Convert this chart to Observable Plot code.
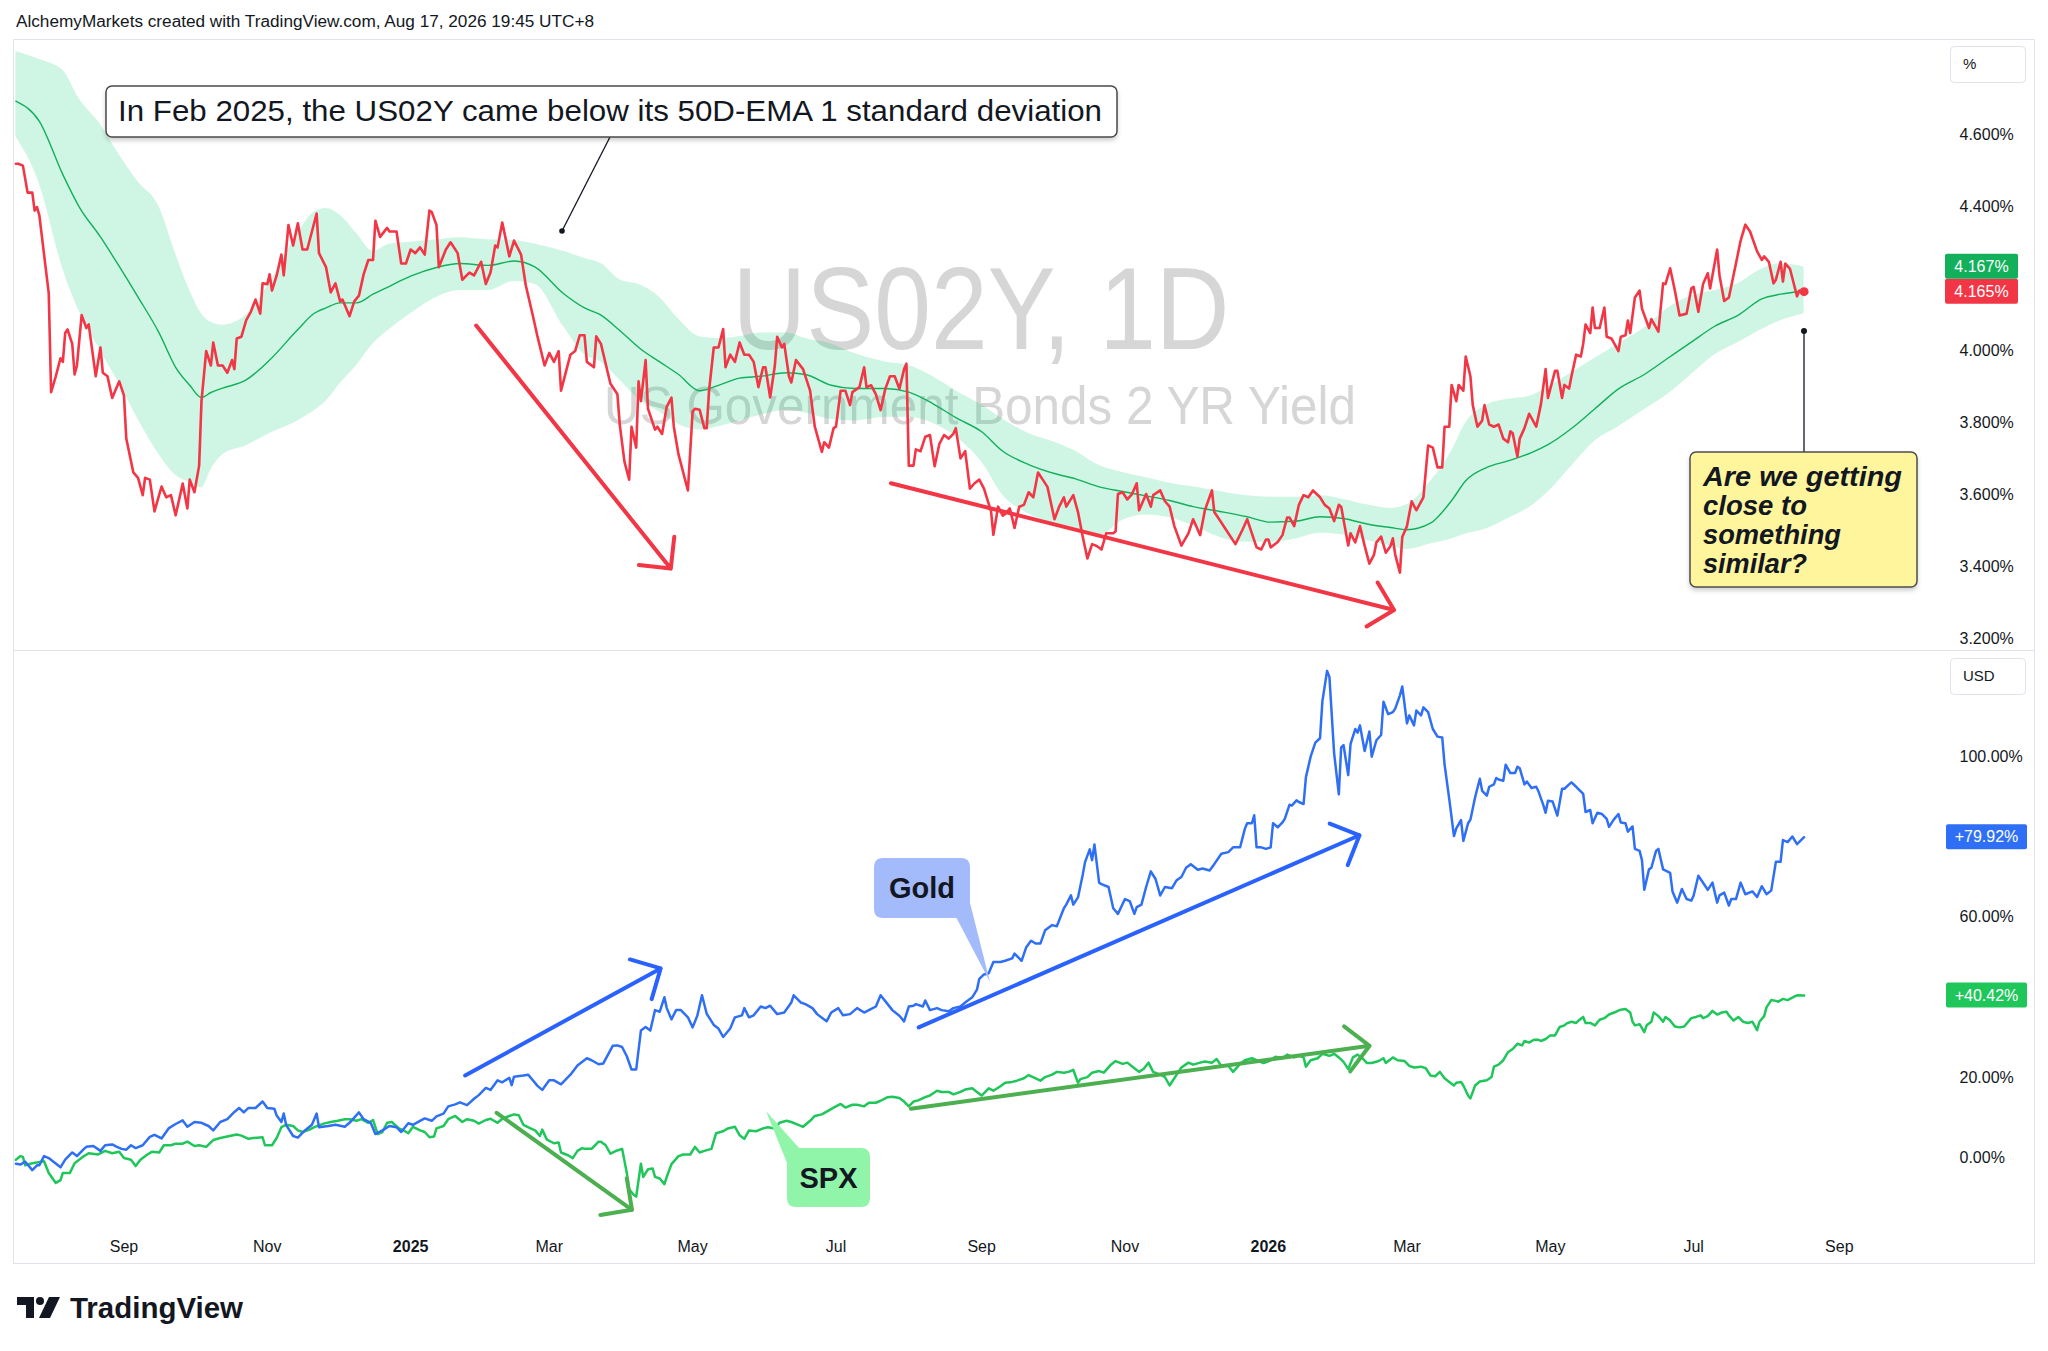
<!DOCTYPE html>
<html>
<head>
<meta charset="utf-8">
<script src="https://cdn.jsdelivr.net/npm/d3@7"></script>
<script src="https://cdn.jsdelivr.net/npm/@observablehq/plot@0.6"></script>
<style>
html,body{margin:0;padding:0;background:#fff;}
#wrap{position:relative;width:2048px;height:1351px;overflow:hidden;background:#fff;font-family:"Liberation Sans",Arial,sans-serif;}
.layer{position:absolute;}
</style>
</head>
<body>
<div id="wrap"></div>
<script>
// ---------------- DATA ----------------
// Day offsets are days since BASE_DAY.
const BASE_DAY = "2024-07-16";

// US02Y daily yield, [day, %]
const us02y = [[1,4.52],[2,4.52],[4,4.515],[6,4.44],[8,4.44],[9,4.39],[10,4.40],[11,4.377],[15,4.16],[16,3.886],[18,3.93],[20,3.98],[21,3.97],[22,4.05],[23,4.06],[25,4.02],[26,3.935],[27,3.96],[29,4.10],[31,4.064],[32,4.074],[35,3.93],[37,4.01],[38,3.94],[40,3.93],[41,3.90],[42,3.87],[45,3.916],[47,3.877],[48,3.757],[51,3.663],[53,3.648],[55,3.60],[56,3.648],[58,3.643],[60,3.555],[63,3.624],[65,3.594],[67,3.60],[69,3.544],[72,3.632],[74,3.563],[75,3.643],[77,3.608],[79,3.682],[80,3.861],[82,4.0],[84,3.96],[85,4.024],[87,3.96],[89,3.96],[91,3.94],[93,3.975],[94,3.95],[95,4.035],[97,4.04],[99,4.085],[101,4.109],[103,4.143],[105,4.104],[106,4.188],[108,4.186],[109,4.213],[110,4.168],[112,4.21],[114,4.268],[115,4.21],[117,4.35],[119,4.293],[121,4.355],[123,4.282],[125,4.282],[127,4.332],[129,4.382],[130,4.272],[133,4.233],[135,4.163],[137,4.188],[139,4.138],[140,4.143],[143,4.097],[145,4.138],[147,4.154],[149,4.213],[151,4.253],[153,4.253],[154,4.362],[156,4.317],[159,4.342],[160,4.332],[163,4.332],[165,4.243],[167,4.243],[169,4.282],[171,4.272],[173,4.288],[175,4.268],[177,4.39],[178,4.386],[180,4.35],[181,4.233],[184,4.282],[186,4.302],[189,4.272],[191,4.198],[194,4.218],[196,4.21],[199,4.248],[201,4.186],[203,4.218],[205,4.293],[206,4.288],[208,4.357],[211,4.263],[213,4.307],[216,4.268],[218,4.183],[221,4.099],[223,4.04],[226,3.96],[228,3.995],[230,3.97],[232,4.0],[233,3.89],[237,3.99],[239,4.0],[241,4.044],[243,4.044],[244,3.97],[247,3.955],[248,4.041],[250,4.02],[254,3.91],[257,3.88],[258,3.796],[260,3.693],[262,3.643],[263,3.79],[265,3.732],[266,3.916],[267,3.861],[269,3.975],[270,3.84],[273,3.782],[274,3.79],[276,3.77],[278,3.846],[280,3.871],[281,3.79],[283,3.713],[287,3.613],[289,3.832],[290,3.84],[292,3.837],[294,3.786],[295,3.786],[296,3.89],[298,4.01],[300,4.01],[302,4.061],[303,3.955],[305,3.99],[307,3.97],[309,4.024],[311,3.99],[313,3.99],[315,3.97],[317,3.90],[319,3.955],[320,3.955],[322,3.871],[324,3.96],[325,4.04],[327,4.01],[328,4.02],[330,3.93],[331,3.913],[333,3.975],[336,3.95],[337,3.93],[339,3.89],[341,3.79],[344,3.72],[345,3.747],[347,3.732],[349,3.786],[350,3.79],[352,3.89],[354,3.89],[356,3.85],[357,3.886],[360,3.90],[362,3.955],[363,3.90],[365,3.905],[367,3.88],[369,3.836],[371,3.895],[373,3.93],[375,3.93],[377,3.895],[379,3.95],[380,3.965],[381,3.682],[383,3.682],[384,3.727],[386,3.722],[388,3.762],[390,3.767],[392,3.68],[394,3.742],[396,3.767],[398,3.757],[400,3.771],[401,3.786],[403,3.702],[405,3.722],[407,3.618],[409,3.633],[411,3.643],[413,3.618],[416,3.555],[417,3.49],[419,3.568],[421,3.543],[422,3.548],[424,3.563],[426,3.509],[428,3.568],[430,3.573],[432,3.608],[434,3.594],[436,3.663],[438,3.643],[440,3.623],[443,3.533],[445,3.568],[447,3.594],[448,3.568],[451,3.60],[453,3.553],[455,3.485],[457,3.424],[459,3.464],[461,3.459],[463,3.449],[465,3.494],[468,3.494],[469,3.499],[470,3.603],[472,3.608],[474,3.588],[476,3.603],[478,3.633],[479,3.558],[482,3.603],[484,3.568],[485,3.60],[488,3.613],[490,3.583],[492,3.568],[494,3.514],[497,3.46],[500,3.494],[502,3.533],[505,3.489],[507,3.558],[510,3.613],[511,3.553],[514,3.524],[516,3.504],[518,3.484],[520,3.464],[523,3.504],[525,3.533],[527,3.494],[529,3.455],[531,3.449],[533,3.477],[534,3.477],[535,3.455],[538,3.47],[540,3.489],[542,3.538],[543,3.538],[545,3.514],[547,3.573],[549,3.60],[551,3.594],[553,3.613],[556,3.594],[558,3.573],[560,3.563],[562,3.528],[564,3.573],[565,3.568],[568,3.46],[569,3.494],[571,3.469],[573,3.514],[575,3.459],[577,3.41],[579,3.435],[580,3.469],[582,3.485],[584,3.44],[586,3.459],[587,3.48],[588,3.435],[590,3.385],[591,3.484],[593,3.514],[595,3.583],[597,3.558],[600,3.594],[602,3.738],[604,3.732],[606,3.677],[608,3.677],[609,3.79],[611,3.79],[612,3.906],[614,3.861],[615,3.906],[617,3.89],[618,3.985],[620,3.93],[621,3.85],[623,3.79],[625,3.807],[626,3.85],[628,3.796],[630,3.79],[632,3.796],[634,3.757],[636,3.747],[637,3.777],[638,3.772],[640,3.707],[641,3.757],[643,3.786],[645,3.826],[648,3.79],[650,3.852],[652,3.95],[653,3.87],[656,3.945],[657,3.945],[659,3.87],[660,3.906],[662,3.896],[663,3.93],[665,3.99],[667,3.985],[668,4.02],[669,4.074],[671,4.05],[672,4.121],[673,4.064],[675,4.064],[677,4.121],[678,4.04],[680,4.035],[683,4.0],[684,4.04],[686,4.044],[687,4.085],[688,4.05],[690,4.149],[692,4.168],[693,4.118],[696,4.064],[697,4.089],[700,4.054],[702,4.188],[703,4.186],[705,4.23],[707,4.168],[709,4.099],[712,4.104],[714,4.174],[715,4.178],[717,4.109],[719,4.186],[721,4.216],[722,4.174],[725,4.282],[726,4.21],[728,4.139],[730,4.149],[733,4.243],[735,4.307],[737,4.351],[739,4.332],[742,4.277],[744,4.253],[745,4.263],[747,4.248],[749,4.188],[750,4.198],[752,4.248],[753,4.193],[754,4.243],[756,4.228],[757,4.203],[759,4.152],[760,4.168],[762,4.165]];

// 50D EMA with its 1-standard-deviation band, [day, lower, ema, upper]
const band50 = [[1,4.595,4.694,4.832],[11,4.465,4.638,4.81],[21,4.228,4.49,4.78],[28,4.109,4.40,4.70],[37,4.0,4.317,4.629],[45,3.91,4.235,4.545],[53,3.811,4.15,4.47],[62,3.712,4.05,4.40],[69,3.655,3.955,4.27],[75,3.635,3.905,4.168],[80,3.62,3.871,4.104],[84,3.67,3.885,4.08],[89,3.712,3.897,4.072],[99,3.737,3.92,4.10],[109,3.771,3.975,4.19],[121,3.806,4.06,4.327],[128,3.835,4.105,4.386],[133,3.861,4.12,4.396],[139,3.91,4.134,4.377],[146,3.96,4.134,4.327],[153,4.02,4.158,4.277],[160,4.06,4.18,4.297],[169,4.104,4.208,4.302],[180,4.149,4.232,4.309],[190,4.168,4.243,4.315],[202,4.168,4.238,4.309],[213,4.193,4.25,4.307],[222,4.185,4.233,4.297],[234,4.069,4.16,4.277],[243,3.99,4.12,4.257],[250,3.97,4.10,4.243],[258,3.92,4.057,4.198],[267,3.861,4.005,4.183],[275,3.831,3.97,4.149],[283,3.796,3.935,4.089],[292,3.781,3.89,4.04],[300,3.79,3.905,4.035],[309,3.806,3.925,4.04],[318,3.822,3.93,4.05],[329,3.836,3.94,4.05],[337,3.828,3.935,4.035],[348,3.81,3.905,4.02],[358,3.806,3.896,3.993],[371,3.816,3.896,3.97],[381,3.816,3.886,3.96],[391,3.80,3.855,3.93],[401,3.762,3.815,3.89],[412,3.692,3.776,3.85],[421,3.60,3.722,3.811],[432,3.548,3.685,3.771],[443,3.52,3.66,3.747],[452,3.508,3.645,3.722],[462,3.487,3.623,3.682],[472,3.53,3.61,3.663],[482,3.545,3.598,3.648],[492,3.537,3.585,3.633],[502,3.515,3.568,3.623],[515,3.479,3.553,3.608],[525,3.469,3.54,3.598],[535,3.469,3.525,3.594],[546,3.479,3.528,3.594],[556,3.494,3.54,3.598],[566,3.489,3.535,3.588],[576,3.474,3.52,3.573],[586,3.459,3.51,3.563],[593,3.449,3.504,3.573],[603,3.464,3.522,3.638],[612,3.478,3.585,3.722],[618,3.492,3.64,3.80],[627,3.507,3.677,3.85],[636,3.535,3.695,3.866],[646,3.57,3.718,3.876],[653,3.608,3.74,3.90],[663,3.68,3.785,3.94],[673,3.75,3.84,3.98],[683,3.79,3.895,4.02],[694,3.837,3.935,4.064],[704,3.88,3.98,4.119],[714,3.935,4.025,4.153],[724,3.99,4.069,4.168],[734,4.024,4.10,4.188],[744,4.06,4.145,4.228],[752,4.084,4.158,4.243],[762,4.104,4.167,4.233]];

// Gold, % change, [day, %]
const gold = [[1,-1.5],[3,-1.7],[5,-1.0],[8,-3.1],[10,-1.9],[11,-1.9],[13,0.4],[15,-0.1],[20,-2.4],[22,-0.5],[25,1.3],[27,0.4],[30,2.2],[31,2.7],[34,2.9],[37,1.7],[39,3.1],[42,3.3],[44,2.7],[46,2.2],[48,2.0],[50,3.1],[52,2.4],[55,3.1],[58,5.2],[60,5.7],[63,4.8],[66,7.3],[69,8.4],[72,9.3],[74,7.7],[77,8.9],[80,8.7],[83,7.9],[85,6.8],[88,8.9],[91,9.6],[94,11.4],[96,12.4],[98,11.3],[100,12.4],[103,12.4],[106,14.0],[108,12.4],[111,12.2],[112,10.5],[114,8.9],[115,11.0],[116,8.2],[119,5.4],[121,5.0],[124,6.8],[127,8.2],[129,11.0],[130,7.6],[134,7.9],[137,8.2],[141,7.7],[143,8.7],[147,11.3],[149,9.6],[152,8.7],[154,5.9],[157,6.8],[160,7.9],[163,7.6],[165,6.4],[168,8.6],[170,8.2],[173,9.2],[175,9.8],[178,9.2],[180,10.3],[183,11.0],[185,12.8],[188,13.3],[190,13.8],[193,13.1],[196,14.7],[198,15.6],[201,17.4],[203,16.9],[206,19.3],[208,18.8],[211,19.9],[212,18.1],[213,20.2],[217,20.5],[219,20.7],[221,19.3],[223,17.9],[225,16.9],[228,19.3],[230,19.3],[233,18.3],[237,20.7],[240,23.0],[244,24.8],[246,24.3],[249,23.3],[251,23.5],[253,25.7],[255,27.9],[257,28.0],[259,27.6],[261,25.3],[263,22.0],[265,22.0],[267,31.7],[269,32.6],[271,31.7],[273,36.8],[275,36.4],[277,40.0],[278,37.3],[280,34.5],[282,36.8],[284,36.8],[287,35.0],[289,32.5],[291,35.4],[293,40.5],[295,35.9],[298,33.1],[300,32.2],[302,30.1],[305,32.2],[307,35.0],[310,35.5],[311,37.3],[313,35.0],[315,35.5],[318,37.7],[320,37.3],[322,37.9],[325,35.8],[328,36.2],[331,38.7],[332,40.5],[335,38.7],[337,38.3],[340,37.3],[342,35.8],[346,34.0],[348,36.2],[351,37.3],[353,35.5],[356,35.8],[359,37.3],[362,36.2],[364,36.8],[367,37.7],[369,40.5],[372,38.3],[374,36.8],[377,35.4],[379,34.0],[381,37.7],[383,37.9],[384,38.3],[387,37.7],[388,39.2],[390,36.8],[393,37.3],[395,36.8],[398,36.5],[400,37.3],[403,37.7],[405,38.7],[408,40.0],[410,41.9],[411,44.6],[413,45.7],[415,46.0],[417,48.8],[420,48.8],[422,49.1],[425,49.7],[426,50.9],[428,49.7],[429,49.1],[431,52.5],[433,54.1],[435,53.4],[437,53.4],[439,56.7],[442,58.0],[444,57.7],[447,62.2],[448,63.1],[450,65.4],[451,63.1],[453,64.9],[455,70.5],[456,73.7],[458,76.9],[459,74.2],[460,78.1],[462,68.6],[463,68.2],[466,67.5],[468,62.2],[470,60.8],[473,64.5],[475,64.0],[477,60.8],[478,62.5],[480,63.1],[482,67.5],[484,71.4],[486,69.5],[488,65.4],[490,67.5],[493,67.2],[495,69.2],[497,70.0],[499,72.3],[501,73.2],[504,71.8],[506,72.1],[509,71.6],[511,73.2],[514,75.8],[517,76.2],[519,77.4],[522,77.4],[524,82.0],[525,83.4],[527,83.4],[528,85.4],[529,77.4],[531,77.4],[533,77.0],[535,77.4],[536,83.4],[538,82.4],[540,83.6],[541,84.5],[543,88.0],[544,87.8],[546,89.1],[547,88.7],[549,88.2],[550,94.9],[552,100.0],[554,103.5],[556,104.6],[557,113.8],[559,121.4],[560,119.9],[562,100.9],[564,90.6],[565,102.3],[566,102.9],[568,95.4],[569,103.2],[571,106.9],[572,106.0],[573,107.8],[575,101.4],[577,106.3],[578,100.0],[580,104.1],[582,105.4],[583,113.7],[585,110.6],[587,111.1],[588,112.0],[590,115.3],[591,117.5],[593,108.3],[594,110.3],[596,107.8],[597,111.5],[599,110.3],[600,112.3],[602,111.1],[604,106.9],[606,105.0],[608,104.8],[609,98.1],[611,89.4],[613,80.2],[614,82.1],[616,84.2],[617,79.0],[619,83.4],[620,84.3],[622,89.9],[624,94.5],[625,91.5],[627,90.3],[628,92.5],[630,93.1],[631,94.7],[632,94.3],[634,94.0],[635,98.0],[637,95.9],[639,95.9],[640,97.5],[641,97.1],[643,93.1],[644,93.8],[646,92.2],[648,92.5],[649,91.3],[651,88.0],[652,86.0],[653,89.0],[655,88.8],[657,85.3],[659,92.0],[660,92.0],[662,93.1],[663,93.6],[665,92.5],[668,90.7],[669,86.2],[671,86.7],[672,83.4],[674,86.0],[676,85.7],[678,84.5],[679,82.5],[681,84.3],[683,85.7],[684,83.6],[686,83.4],[687,81.3],[689,82.6],[690,77.0],[692,76.5],[693,74.2],[694,66.8],[696,71.9],[697,72.3],[699,76.5],[700,77.0],[702,71.9],[705,71.0],[706,66.4],[708,63.6],[710,67.0],[712,64.5],[714,64.1],[715,65.4],[717,70.3],[720,67.7],[721,66.8],[723,68.6],[725,63.6],[726,65.4],[728,66.1],[730,62.9],[731,64.5],[733,64.5],[735,68.6],[737,65.7],[740,66.4],[742,65.0],[744,67.7],[746,65.7],[748,66.6],[750,73.8],[752,73.8],[753,79.2],[755,78.7],[757,80.1],[759,78.2],[762,79.92]];

// S&P 500, % change, [day, %]
const spx = [[1,-0.5],[3,0.4],[4,0.2],[5,-1.9],[8,-1.4],[10,-1.2],[13,-0.9],[15,-3.8],[18,-6.3],[20,-5.6],[21,-3.8],[24,-3.8],[26,-1.4],[30,0.4],[32,1.1],[36,0.8],[39,1.7],[42,1.1],[45,1.5],[47,-0.1],[50,-0.5],[52,-2.1],[54,-0.5],[57,0.8],[59,1.5],[62,1.3],[64,3.1],[67,3.1],[69,3.5],[72,3.5],[74,4.0],[77,2.9],[79,3.1],[82,2.7],[85,4.4],[88,4.9],[91,5.3],[95,5.8],[97,5.5],[100,4.7],[102,4.9],[106,5.1],[107,3.1],[110,3.1],[112,4.9],[114,7.6],[116,8.2],[119,7.9],[121,6.8],[123,6.4],[126,7.0],[128,7.6],[132,8.5],[135,8.9],[138,9.2],[141,9.6],[143,9.6],[146,9.2],[148,9.6],[151,8.7],[153,9.4],[155,5.9],[157,6.4],[159,8.7],[161,8.9],[164,7.3],[166,6.8],[168,6.1],[170,7.7],[173,6.8],[175,6.4],[177,5.1],[179,5.3],[180,7.3],[183,7.9],[185,9.6],[188,10.4],[191,8.9],[193,9.6],[196,9.2],[198,8.5],[201,9.4],[203,9.7],[206,8.7],[208,9.7],[211,10.4],[213,10.8],[215,10.6],[217,8.2],[220,7.3],[222,6.8],[224,5.4],[225,7.0],[227,4.5],[230,3.6],[232,3.8],[233,1.3],[236,0.6],[238,-0.1],[240,1.7],[242,2.4],[243,2.2],[246,2.2],[249,4.0],[250,4.0],[252,3.1],[254,1.0],[256,1.6],[259,2.2],[261,-3.8],[262,-7.9],[264,-9.3],[265,-9.7],[267,-1.5],[268,-4.8],[270,-2.9],[272,-2.7],[273,-4.8],[275,-5.2],[277,-6.6],[278,-4.8],[280,-1.6],[283,0.4],[285,0.8],[288,0.8],[290,2.7],[292,1.3],[294,1.7],[297,2.2],[299,6.1],[302,6.6],[304,7.3],[307,7.7],[309,5.6],[311,4.7],[313,6.8],[316,6.6],[319,7.3],[321,7.6],[324,7.3],[326,8.7],[329,9.2],[331,8.9],[334,8.2],[336,7.7],[339,9.2],[341,10.4],[344,10.8],[347,11.8],[349,12.5],[352,13.4],[354,12.5],[357,13.2],[359,13.2],[362,12.8],[364,13.7],[367,13.7],[369,14.2],[372,15.1],[374,15.2],[377,14.9],[379,14.0],[381,12.8],[383,14.0],[385,14.3],[388,15.1],[390,15.5],[393,16.7],[395,16.4],[398,16.4],[400,15.8],[403,16.4],[405,17.0],[408,17.3],[410,16.4],[412,15.5],[415,17.3],[417,16.7],[420,17.8],[422,18.7],[425,18.9],[427,19.2],[430,19.8],[432,20.6],[435,19.8],[437,19.2],[439,20.1],[442,20.7],[444,21.4],[447,21.2],[449,21.4],[451,21.9],[453,18.7],[454,19.6],[457,20.1],[459,21.2],[462,21.6],[464,21.2],[467,23.2],[469,24.1],[472,23.4],[474,23.7],[477,22.3],[479,21.4],[481,22.2],[483,23.7],[485,21.4],[488,20.7],[490,20.1],[492,18.0],[495,20.7],[497,22.5],[500,23.7],[502,23.2],[505,23.7],[507,24.0],[510,23.7],[512,24.6],[514,22.9],[517,22.9],[519,21.4],[522,23.4],[524,24.3],[527,24.8],[529,24.3],[532,23.6],[535,24.3],[537,25.2],[540,24.8],[542,25.7],[545,25.0],[547,25.4],[549,25.0],[550,22.7],[552,24.3],[555,24.8],[557,25.9],[560,25.4],[562,25.9],[564,25.0],[566,23.9],[568,22.1],[570,25.0],[572,25.7],[574,24.8],[576,23.6],[578,23.6],[581,24.1],[583,24.8],[584,23.6],[587,25.0],[589,24.3],[592,24.1],[594,22.9],[596,22.5],[599,22.7],[601,22.3],[603,20.5],[605,20.3],[607,21.4],[609,19.8],[611,18.9],[613,18.0],[614,18.7],[616,18.9],[617,18.0],[619,15.5],[620,14.8],[622,18.0],[624,19.0],[627,19.3],[629,20.1],[630,22.7],[632,23.2],[634,24.3],[636,26.3],[638,27.1],[640,28.4],[642,28.0],[643,29.1],[645,28.7],[647,29.4],[649,29.4],[650,29.1],[652,29.6],[654,30.5],[656,30.5],[658,32.6],[660,33.0],[661,33.5],[663,33.9],[665,33.6],[666,34.2],[668,35.1],[669,33.6],[671,33.6],[673,33.0],[675,34.4],[677,34.8],[679,35.7],[682,36.4],[684,36.9],[686,37.1],[688,36.2],[689,33.9],[690,33.0],[692,33.3],[694,31.3],[695,33.0],[697,33.9],[698,36.2],[700,35.3],[702,33.9],[703,35.1],[705,34.2],[707,32.7],[709,32.5],[711,32.7],[714,34.8],[716,35.1],[718,35.5],[719,34.8],[721,35.3],[723,36.6],[725,35.7],[727,36.2],[729,36.4],[730,35.5],[732,34.2],[734,35.1],[736,33.9],[738,33.6],[740,33.9],[742,31.8],[743,33.9],[745,35.3],[746,37.5],[748,39.3],[750,39.1],[751,38.9],[753,39.6],[755,39.3],[758,40.2],[759,40.5],[762,40.42]];

// Axis ticks
const monthTicks = ["2024-09-01","2024-11-01","2025-01-01","2025-03-01","2025-05-01","2025-07-01","2025-09-01","2025-11-01","2026-01-01","2026-03-01","2026-05-01","2026-07-01","2026-09-01"];
const usTicks = [4.6, 4.4, 4.0, 3.8, 3.6, 3.4, 3.2];
const cmpTicks = [100, 60, 20, 0];
const xEndDay = 820.9; // right edge of the plotting area

// Drawn annotation arrows, [day1, value1, day2, value2]
const redArrows = [[196.9,4.071,279.7,3.396],[373.4,3.633,587.5,3.281]];
const goldArrows = [[192.2,20.5,275.4,47.2],[385.2,32.5,572.8,80.4]];
const spxArrows = [[205.6,11.2,263.2,-13.0],[381.9,12.2,577.1,27.9]];

// Texts
const headerText = "AlchemyMarkets created with TradingView.com, Aug 17, 2026 19:45 UTC+8";
const noteText = "In Feb 2025, the US02Y came below its 50D-EMA 1 standard deviation";
const questionLines = ["Are we getting", "close to", "something", "similar?"];
const questionWidths = [199, 104, 138, 104];
const watermark1 = "US02Y, 1D";
const watermark2 = "US Government Bonds 2 YR Yield";

// ---------------- BUILD ----------------
const FONT = '"Liberation Sans", Arial, sans-serif';
const INK = "#131722";
const RED = "#f23645", EMA_GREEN = "#12b05a", BLUE = "#2f6ff5", SPX_GREEN = "#1fc65a";
const ARROW_BLUE = "#2962ff", ARROW_GREEN = "#4caf50";

const base = Date.parse(BASE_DAY);
const toDate = d => new Date(base + d * 864e5);
const usData = us02y.map(([d, v]) => ({date: toDate(d), v}));
const bandData = band50.map(([d, lo, ema, hi]) => ({date: toDate(d), lo, ema, hi}));
const goldData = gold.map(([d, v]) => ({date: toDate(d), v}));
const spxData = spx.map(([d, v]) => ({date: toDate(d), v}));
const xDomain = [toDate(0), toDate(xEndDay)];
const tickDates = monthTicks.map(s => new Date(s));
const arrowOpts = color => ({
  x1: a => toDate(a[0]), y1: a => a[1], x2: a => toDate(a[2]), y2: a => a[3],
  stroke: color, strokeWidth: 4, headAngle: 90, headLength: 12, strokeLinecap: "round"
});

const wrap = d3.select("#wrap");
const FRAME = {l: 13, t: 39, r: 2035, b: 1264}, SPLIT = 650;
const PLOT_W = 2022, RIGHT_M = 93;
const TOP_Y = 39, TOP_H = 611, BOT_Y = 651, BOT_H = 613, BOT_MB = 36;

// background layer: frame + watermark
const bg = wrap.append("svg").attr("class", "layer").attr("width", 2048).attr("height", 1351)
  .style("left", "0px").style("top", "0px");
bg.append("rect").attr("x", FRAME.l + 0.5).attr("y", FRAME.t + 0.5)
  .attr("width", FRAME.r - FRAME.l - 1).attr("height", FRAME.b - FRAME.t - 1)
  .attr("fill", "none").attr("stroke", "#e0e3eb");
bg.append("line").attr("x1", FRAME.l).attr("x2", FRAME.r).attr("y1", SPLIT + 0.5).attr("y2", SPLIT + 0.5)
  .attr("stroke", "#e0e3eb");
bg.append("text").text(watermark1).attr("x", 981).attr("y", 349).attr("text-anchor", "middle")
  .attr("font-family", FONT).attr("font-size", 116).attr("fill", "#d6d6d6")
  .attr("textLength", 497).attr("lengthAdjust", "spacingAndGlyphs");
bg.append("text").text(watermark2).attr("x", 980).attr("y", 424).attr("text-anchor", "middle")
  .attr("font-family", FONT).attr("font-size", 54).attr("fill", "#d6d6d6")
  .attr("textLength", 752).attr("lengthAdjust", "spacingAndGlyphs");

const plotStyle = {background: "transparent", fontFamily: FONT, fontSize: "16px", color: INK, overflow: "visible", maxWidth: "none"};

// top pane
const topPlot = Plot.plot({
  width: PLOT_W, height: TOP_H,
  marginLeft: 0, marginRight: RIGHT_M, marginTop: 0, marginBottom: 0,
  style: plotStyle,
  x: {type: "utc", domain: xDomain, axis: null},
  y: {domain: [3.1686, 4.8652]},
  marks: [
    Plot.areaY(bandData, {x: "date", y1: "lo", y2: "hi", fill: "rgb(0,200,110)", fillOpacity: 0.19, curve: "monotone-x"}),
    Plot.line(bandData, {x: "date", y: "ema", stroke: EMA_GREEN, strokeWidth: 1.4, curve: "monotone-x"}),
    Plot.line(usData, {x: "date", y: "v", stroke: RED, strokeWidth: 2.6, strokeLinejoin: "round"}),
    Plot.arrow(redArrows, arrowOpts(RED)),
    Plot.dot(usData.slice(-1), {x: "date", y: "v", r: 4.5, fill: RED}),
    Plot.axisY({anchor: "right", ticks: usTicks, tickSize: 0, tickPadding: 17, fontSize: 16,
      tickFormat: d => d.toFixed(3) + "%", label: null})
  ]
});
wrap.append("div").attr("class", "layer").style("left", FRAME.l + "px").style("top", TOP_Y + "px")
  .style("width", PLOT_W + "px").node().appendChild(topPlot);

// bottom pane
const botPlot = Plot.plot({
  width: PLOT_W, height: BOT_H,
  marginLeft: 0, marginRight: RIGHT_M, marginTop: 0, marginBottom: BOT_MB,
  style: plotStyle,
  x: {type: "utc", domain: xDomain},
  y: {domain: [-17.66, 126.23]},
  marks: [
    Plot.line(spxData, {x: "date", y: "v", stroke: SPX_GREEN, strokeWidth: 2.5, strokeLinejoin: "round"}),
    Plot.line(goldData, {x: "date", y: "v", stroke: BLUE, strokeWidth: 2.5, strokeLinejoin: "round"}),
    Plot.arrow(goldArrows, arrowOpts(ARROW_BLUE)),
    Plot.arrow(spxArrows, arrowOpts(ARROW_GREEN)),
    Plot.axisX({ticks: tickDates, tickSize: 0, tickPadding: 12, fontSize: 16, label: null,
      tickFormat: d => d.getUTCMonth() === 0 ? String(d.getUTCFullYear()) : d3.utcFormat("%b")(d)}),
    Plot.axisY({anchor: "right", ticks: cmpTicks, tickSize: 0, tickPadding: 17, fontSize: 16,
      tickFormat: d => d.toFixed(2) + "%", label: null})
  ]
});
d3.select(botPlot).selectAll("text").filter(function () { return /^\d{4}$/.test(this.textContent); })
  .attr("font-weight", "bold");
wrap.append("div").attr("class", "layer").style("left", FRAME.l + "px").style("top", BOT_Y + "px")
  .style("width", PLOT_W + "px").node().appendChild(botPlot);

// foreground layer
const fg = wrap.append("svg").attr("class", "layer").attr("width", 2048).attr("height", 1351)
  .style("left", "0px").style("top", "0px");
const txt = (s, x, y, size, opts = {}) => {
  const t = fg.append("text").text(s).attr("x", x).attr("y", y).attr("font-family", opts.family || FONT)
    .attr("font-size", size).attr("fill", opts.fill || INK);
  if (opts.weight) t.attr("font-weight", opts.weight);
  if (opts.style) t.attr("font-style", opts.style);
  if (opts.anchor) t.attr("text-anchor", opts.anchor);
  if (opts.len) t.attr("textLength", opts.len).attr("lengthAdjust", "spacingAndGlyphs");
  if (opts.dy) t.attr("dy", opts.dy);
  return t;
};

// header
txt(headerText, 16, 27, 16, {len: 578});

// unit boxes
const unitBox = (label, y) => {
  fg.append("rect").attr("x", 1950.5).attr("y", y + 0.5).attr("width", 75).attr("height", 36).attr("rx", 4)
    .attr("fill", "#fff").attr("stroke", "#e0e3eb");
  txt(label, 1963, y + 18, 15, {dy: "0.35em"});
};
unitBox("%", 46);
unitBox("USD", 658);

// note callout (top-left)
fg.append("line").attr("x1", 610).attr("y1", 137).attr("x2", 562).attr("y2", 231).attr("stroke", INK).attr("stroke-width", 1.3);
fg.append("circle").attr("cx", 562).attr("cy", 231).attr("r", 2.8).attr("fill", INK);
fg.append("rect").attr("x", 106).attr("y", 86).attr("width", 1011).attr("height", 51).attr("rx", 6)
  .attr("fill", "#fff").attr("stroke", "#4a4a4a").attr("stroke-width", 1.5)
  .style("filter", "drop-shadow(0px 3px 2px rgba(0,0,0,0.18))");
txt(noteText, 118, 121, 30, {len: 984});

// question callout
fg.append("line").attr("x1", 1804).attr("y1", 331).attr("x2", 1804).attr("y2", 452).attr("stroke", INK).attr("stroke-width", 1.3);
fg.append("circle").attr("cx", 1804).attr("cy", 331).attr("r", 3).attr("fill", INK);
fg.append("rect").attr("x", 1690).attr("y", 452).attr("width", 227).attr("height", 135).attr("rx", 6)
  .attr("fill", "#fff59d").attr("stroke", "#4d4d4d").attr("stroke-width", 1.5)
  .style("filter", "drop-shadow(0px 3px 2px rgba(0,0,0,0.18))");
questionLines.forEach((s, i) => txt(s, 1703, 486 + i * 29, 27, {weight: "bold", style: "italic", len: questionWidths[i]}));

// Gold / SPX callouts
fg.append("path").attr("d", "M883,858 H961 Q970,858 970,867 V909 Q970,918 961,918 H883 Q874,918 874,909 V867 Q874,858 883,858 Z")
  .attr("fill", "#a3bafb");
fg.append("path").attr("d", "M956,917 L970,903 L990,982 Z").attr("fill", "#a3bafb");
txt("Gold", 922, 888, 29, {weight: "bold", anchor: "middle", dy: "0.36em"});
fg.append("path").attr("d", "M796,1148 H861 Q870,1148 870,1157 V1198 Q870,1207 861,1207 H796 Q787,1207 787,1198 V1157 Q787,1148 796,1148 Z")
  .attr("fill", "#91f5a9");
fg.append("path").attr("d", "M787,1163 L800,1149 L766,1111 Z").attr("fill", "#91f5a9");
txt("SPX", 828.5, 1178, 29, {weight: "bold", anchor: "middle", dy: "0.36em"});

// last-value labels on the price scales (positions via the plots' scales)
const yTop = topPlot.scale("y"), yBot = botPlot.scale("y");
const priceLabel = (yc, x, w, s, fill) => {
  fg.append("rect").attr("x", x).attr("y", yc - 12.5).attr("width", w).attr("height", 25).attr("rx", 2).attr("fill", fill);
  txt(s, x + w / 2, yc, 16, {fill: "#fff", anchor: "middle", dy: "0.36em"});
};
const usLast = usData[usData.length - 1].v, emaLast = bandData[bandData.length - 1].ema;
const yRed = TOP_Y + yTop.apply(usLast);
priceLabel(yRed, 1945, 73, usLast.toFixed(3) + "%", RED);
priceLabel(yRed - 25, 1945, 73, emaLast.toFixed(3) + "%", EMA_GREEN);
const goldLast = goldData[goldData.length - 1].v, spxLast = spxData[spxData.length - 1].v;
priceLabel(BOT_Y + yBot.apply(goldLast), 1946, 81, "+" + goldLast.toFixed(2) + "%", BLUE);
priceLabel(BOT_Y + yBot.apply(spxLast), 1946, 81, "+" + spxLast.toFixed(2) + "%", SPX_GREEN);

// TradingView logo
const logo = fg.append("g").attr("fill", INK);
logo.append("path").attr("d", "M17,1297 H34 V1318 H26 V1305 H17 Z");
logo.append("circle").attr("cx", 40).attr("cy", 1301).attr("r", 4);
logo.append("path").attr("d", "M49,1297 H60 L50,1318 H39 Z");
txt("TradingView", 70, 1318, 29, {weight: "bold", len: 173});
</script>
</body>
</html>
